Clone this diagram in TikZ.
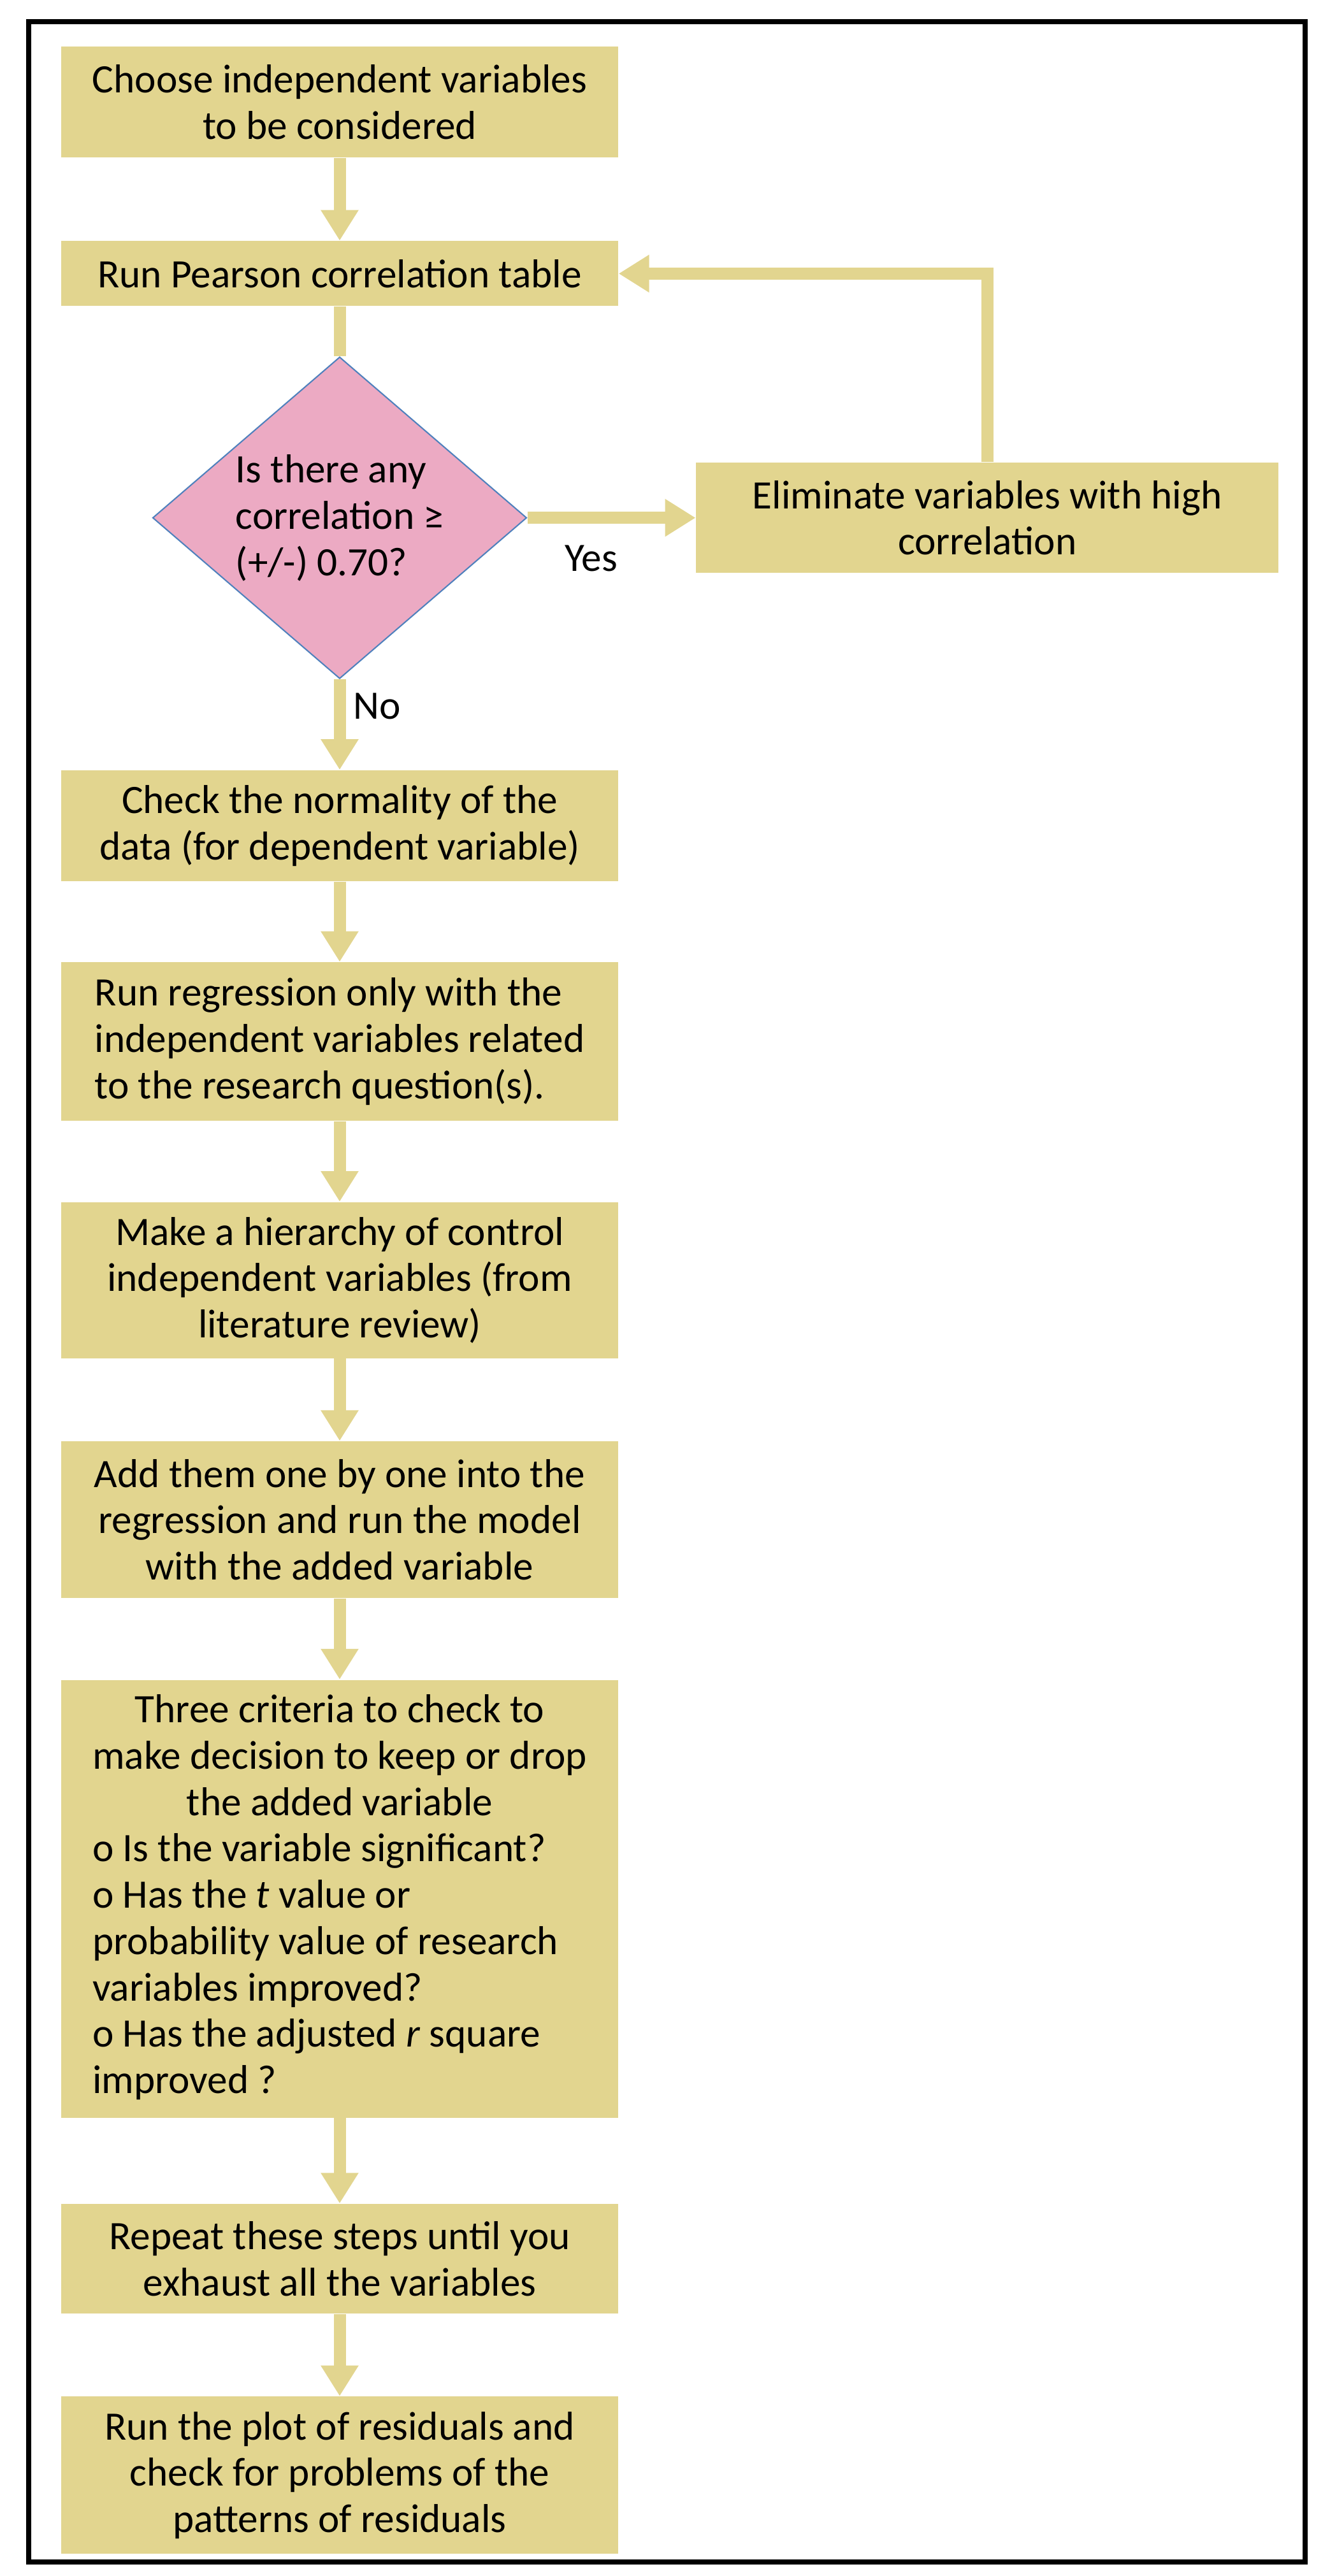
\documentclass[tikz,border=0pt]{standalone}
\usepackage{fontspec}
\setmainfont{Carlito}
\usetikzlibrary{shapes.geometric, arrows.meta, positioning}
\definecolor{ocre}{RGB}{226,213,143}
\definecolor{rosa}{RGB}{236,170,195}
\definecolor{borde}{RGB}{79,129,189}
\newcommand{\centro}[1]{\multicolumn{1}{@{}c@{}}{#1}}

\begin{document}
\begin{tikzpicture}[
		% Estilos de las cajas y conectores
		block/.style = {fill=ocre, rectangle, minimum width=8.74cm, inner xsep=0.27cm, inner ysep=0pt, align=center},
		left_block/.style = {block, align=left},
		decision/.style = {diamond, draw=borde, line width=0.6pt, fill=rosa, aspect=1.16, inner sep=0pt, minimum width=5.87cm, minimum height=5.05cm, align=left},
		link/.style = {draw=ocre, line width=0.19cm},
		node distance=1.28cm,
		font=\fontsize{18}{20.7}\selectfont,
		>={Triangle[length=0.48cm, width=0.56cm]}
		]
		
		\useasboundingbox (0,0) rectangle (20.86,-40.43);
		\draw [line width=0.08cm] (0.45,-0.34) rectangle (20.48,-40.21);
		
		% --- COLUMNA PRINCIPAL ---
		\node [block, minimum height=1.74cm] (choose) at (5.33,-1.60) {Choose independent variables\\ to be considered};
		\node [block, minimum height=1.02cm, below=1.30cm of choose] (pearson) {Run Pearson correlation table};
		
		% Decision
		\node [decision, below=0.78cm of pearson] (corr_q) {Is there any\\ correlation ≥\\ (+/-) 0.70?};
		\node [block, minimum width=9.14cm, minimum height=1.73cm, right=2.64cm of corr_q] (elim) {Eliminate variables with high\\ correlation};
		
		\node [block, minimum height=1.74cm, below=1.42cm of corr_q] (normal) {Check the normality of the\\ data (for dependent variable)};
		\node [left_block, minimum height=2.49cm, below=1.26cm of normal] (regress) {Run regression only with the\\ independent variables related\\ to the research question(s).};
		\node [block, minimum height=2.45cm, below=1.26cm of regress] (hier) {Make a hierarchy of control\\ independent variables (from\\ literature review)};
		\node [block, minimum height=2.46cm, below=1.29cm of hier] (add_var) {Add them one by one into the\\ regression and run the model\\ with the added variable};
		\node [block, minimum height=6.87cm, below=1.27cm of add_var] (criteria) {\begin{tabular}{@{}l@{}}
				\centro{Three criteria to check to}\\
				\centro{make decision to keep or drop}\\
				\centro{the added variable}\\
				o Is the variable significant?\\
				o Has the \textit{t} value or\\
				probability value of research\\
				variables improved?\\
				o Has the adjusted \textit{r} square\\
				improved ?
			\end{tabular}};
		\node [block, minimum height=1.72cm, below=1.34cm of criteria] (repeat_st) {Repeat these steps until you\\ exhaust all the variables};
		\node [block, minimum height=2.47cm, below=1.29cm of repeat_st] (resid) {Run the plot of residuals and\\ check for problems of the\\ patterns of residuals};
		
		% --- CONEXIONES ---
		\draw [link, ->] (choose) -- (pearson);
		\draw [link] (pearson) -- (corr_q);
		\draw [link, ->] (corr_q) -- node[below=0.22cm, pos=0.38] (yes) {Yes} (elim);
		\draw [link, ->] (corr_q) -- node[right, pos=0.3] (no) {No} (normal);
		\draw [link, ->] (normal) -- (regress);
		\draw [link, ->] (regress) -- (hier);
		\draw [link, ->] (hier) -- (add_var);
		\draw [link, ->] (add_var) -- (criteria);
		\draw [link, ->] (criteria) -- (repeat_st);
		\draw [link, ->] (repeat_st) -- (resid);
		
		% Retorno a la tabla de correlacion
		\draw [link, ->] (elim.north) |- (pearson.east);
		
	\end{tikzpicture}
\end{document}
